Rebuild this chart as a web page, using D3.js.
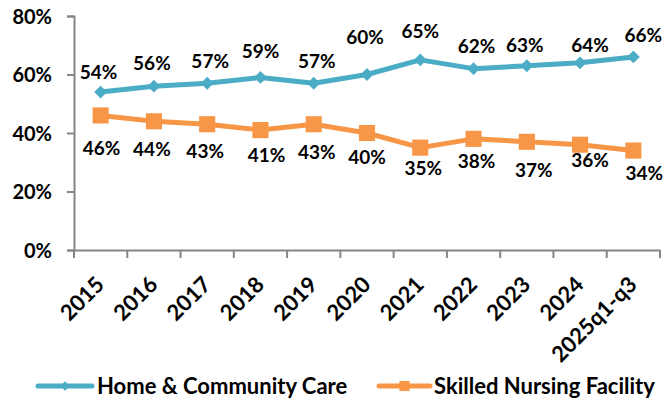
<!DOCTYPE html>
<html>
<head>
<meta charset="utf-8">
<script src="https://cdn.jsdelivr.net/npm/d3@7"></script>
<style>
  body { margin: 0; background: #fff; }
  text { font-family: Lato, "Open Sans", sans-serif; font-weight: bold; fill: #000; }
</style>
</head>
<body>
<div id="chart"></div>
<script>
var categories = ['2015', '2016', '2017', '2018', '2019', '2020', '2021', '2022', '2023', '2024', '2025q1-q3'];
var homeCare = [54, 56, 57, 59, 57, 60, 65, 62, 63, 64, 66];
var nursing = [46, 44, 43, 41, 43, 40, 35, 38, 37, 36, 34];
var yTicks = [0, 20, 40, 60, 80];

// hand placed data labels (offset of label centre from its point)
var homeLabelShift = [[-2, -20], [-2, -23], [3, -22], [0, -26], [3, -22], [-2, -37], [0, -29], [3, -22], [-2, -21], [10, -18], [10, -22]];
var nursingLabelShift = [[1, 33], [-2, 28], [-2, 27], [6, 25], [3, 28], [0, 24], [3, 21], [3, 22], [7, 28], [10, 15], [11, 23]];

var series = [
  { name: 'Home & Community Care', values: homeCare, shift: homeLabelShift, color: '#4BACC6', shape: 'diamond' },
  { name: 'Skilled Nursing Facility', values: nursing, shift: nursingLabelShift, color: '#F79646', shape: 'square' }
];

var svg = d3.select('#chart').append('svg')
  .attr('width', 664)
  .attr('height', 400);

var x = d3.scaleBand().domain(categories).range([74, 660]);
var y = d3.scaleLinear().domain([0, 80]).range([250, 16]);

// y axis
var yAxis = svg.append('g')
  .attr('transform', 'translate(74,0)')
  .call(d3.axisLeft(y).tickValues(yTicks).tickSize(7).tickPadding(15)
    .tickFormat(function (d) { return d + '%'; }));
yAxis.selectAll('text').style('font-size', '20px').attr('dy', '0.36em');

// x axis, ticks sit between the categories
var xAxis = svg.append('g')
  .attr('transform', 'translate(0,250)')
  .call(d3.axisBottom(x).tickSize(0).tickPadding(0));
xAxis.selectAll('.tick line').remove();
xAxis.selectAll('text')
  .style('font-size', '22px')
  .attr('text-anchor', 'end')
  .attr('dy', null)
  .attr('transform', 'translate(5,36) rotate(-45)');
xAxis.selectAll('.bound').data(d3.range(categories.length + 1))
  .enter().append('line')
  .attr('x1', function (i) { return 74 + i * x.bandwidth(); })
  .attr('x2', function (i) { return 74 + i * x.bandwidth(); })
  .attr('y1', 0).attr('y2', 8);

svg.selectAll('.domain, .tick line, g line')
  .attr('stroke', '#868686')
  .attr('stroke-width', 2);

var cx = function (i) { return x(categories[i]) + x.bandwidth() / 2; };

series.forEach(function (s) {
  var line = d3.line()
    .x(function (d, i) { return cx(i); })
    .y(function (d) { return y(d); });

  svg.append('path')
    .datum(s.values)
    .attr('d', line)
    .attr('fill', 'none')
    .attr('stroke', s.color)
    .attr('stroke-width', 5)
    .attr('stroke-linejoin', 'round');

  // diamond = rotated square
  svg.selectAll(null).data(s.values)
    .enter().append('path')
    .attr('d', d3.symbol().type(d3.symbolSquare2).size(s.shape == 'diamond' ? 105 : 330)())
    .attr('transform', function (d, i) {
      return 'translate(' + cx(i) + ',' + y(d) + ')' + (s.shape == 'diamond' ? ' rotate(45)' : '');
    })
    .attr('fill', s.color);

  svg.selectAll(null).data(s.values)
    .enter().append('text')
    .attr('x', function (d, i) { return cx(i) + s.shift[i][0]; })
    .attr('y', function (d, i) { return y(d) + s.shift[i][1]; })
    .attr('dy', '0.36em')
    .attr('text-anchor', 'middle')
    .style('font-size', '19px')
    .text(function (d) { return d + '%'; });
});

// legend
var legend = [
  { s: series[0], x1: 38, x2: 92, tx: 97 },
  { s: series[1], x1: 379, x2: 430, tx: 434 }
];
legend.forEach(function (l) {
  var g = svg.append('g');
  var ly = 386;
  g.append('line')
    .attr('x1', l.x1).attr('x2', l.x2)
    .attr('y1', ly).attr('y2', ly)
    .attr('stroke', l.s.color)
    .attr('stroke-width', 5)
    .attr('stroke-linecap', 'round');
  g.append('path')
    .attr('d', d3.symbol().type(d3.symbolSquare2).size(l.s.shape == 'diamond' ? 55 : 130)())
    .attr('transform', 'translate(' + ((l.x1 + l.x2) / 2) + ',' + ly + ')' + (l.s.shape == 'diamond' ? ' rotate(45)' : ''))
    .attr('fill', l.s.color);
  g.append('text')
    .attr('x', l.tx)
    .attr('y', ly)
    .attr('dy', '0.36em')
    .style('font-size', '22px')
    .text(l.s.name);
});
</script>
</body>
</html>
